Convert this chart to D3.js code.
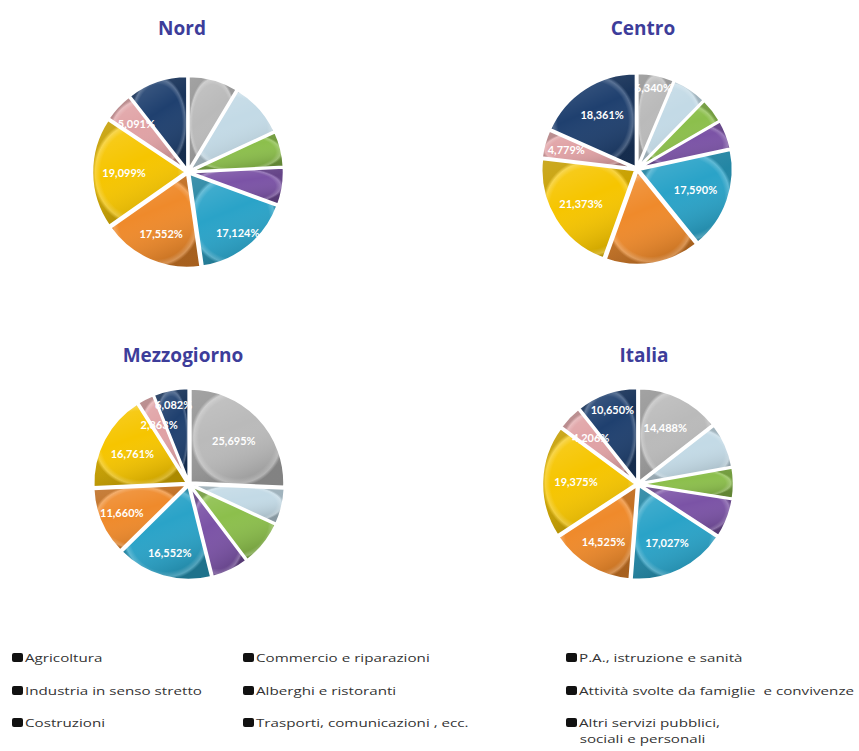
<!DOCTYPE html>
<html><head><meta charset="utf-8">
<script src="https://cdn.jsdelivr.net/npm/d3@7"></script>
<style>body{margin:0;background:#fff}svg{display:block}</style>
</head><body>
<script>
const categories = ["Agricoltura","Industria in senso stretto","Costruzioni","Commercio e riparazioni","Alberghi e ristoranti","Trasporti, comunicazioni , ecc.","P.A., istruzione e sanità","Attività svolte da famiglie  e convivenze","Altri servizi pubblici, sociali e personali"];
const colors = ["#bababa","#c3dae6","#8cbf4c","#7b53a6","#2aa3c8","#ef8a2b","#f6c500","#e0a2a5","#1f406f"];
const regions = ["Nord","Centro","Mezzogiorno","Italia"];
const nordValues = [8.6, 9.5, 6.1, 6.4, 17.124, 17.552, 19.099, 5.091, 10.534];
const centroValues = [6.34, 6.0, 4.3, 4.96, 17.59, 16.297, 21.373, 4.779, 18.361];
const mezzogiornoValues = [25.695, 6.2, 7.8, 6.387, 16.552, 11.66, 16.761, 2.863, 6.082];
const italiaValues = [14.488, 7.7, 5.3, 6.729, 17.027, 14.525, 19.375, 4.206, 10.65];
const nordLabeled = [4,5,6,7];
const centroLabeled = [0,4,6,7,8];
const mezzogiornoLabeled = [0,4,5,6,7,8];
const italiaLabeled = [0,4,5,6,7,8];
// label distance from centre (fraction of radius), one per labelled slice
const nordLabelR = [0.84, 0.72, 0.68, 0.75];
const centroLabelR = [0.88, 0.66, 0.7, 0.78, 0.68];
const mezzogiornoLabelR = [0.66, 0.76, 0.78, 0.68, 0.7, 0.86];
const italiaLabelR = [0.66, 0.7, 0.72, 0.66, 0.7, 0.83];

const W = 859, H = 751;
const svg = d3.select("body").append("svg").attr("width", W).attr("height", H);
const defs = svg.append("defs");
const rim = defs.append("radialGradient").attr("id","rim");
[[0,"#fff",0],[0.82,"#fff",0],[0.93,"#fff",0.22],[1,"#000",0.18]].forEach(s=>rim.append("stop").attr("offset",s[0]).attr("stop-color",s[1]).attr("stop-opacity",s[2]));
const shade = defs.append("linearGradient").attr("id","shade").attr("x1",0).attr("y1",0).attr("x2",0.4).attr("y2",1);
[[0,"#fff",0.18],[0.5,"#fff",0],[1,"#000",0.15]].forEach(s=>shade.append("stop").attr("offset",s[0]).attr("stop-color",s[1]).attr("stop-opacity",s[2]));

const pies = [
  {name: regions[0], values: nordValues, labeled: nordLabeled, lr: nordLabelR, cx: 188, cy: 172},
  {name: regions[1], values: centroValues, labeled: centroLabeled, lr: centroLabelR, cx: 637, cy: 169},
  {name: regions[2], values: mezzogiornoValues, labeled: mezzogiornoLabeled, lr: mezzogiornoLabelR, cx: 189, cy: 484},
  {name: regions[3], values: italiaValues, labeled: italiaLabeled, lr: italiaLabelR, cx: 638, cy: 484}
];
const titleY = [35, 35, 362, 362];
const R = 94;
const pie = d3.pie().sort(null).value(d => d);
const arc = d3.arc().innerRadius(0).outerRadius(R);
const fmt = v => d3.format(".3f")(v).replace(".", ",") + "%";

pies.forEach((p, pi) => {
  const g = svg.append("g").attr("transform", `translate(${p.cx},${p.cy})`);
  svg.append("text").attr("x", p.cx + (pi % 2 ? 6 : -6)).attr("y", titleY[pi])
    .attr("text-anchor","middle").attr("font-family","'Open Sans', sans-serif")
    .attr("font-weight","bold").attr("font-size","19px").attr("fill","#3d3d9a").text(p.name);
  const arcs = pie(p.values);
  const sl = g.selectAll("g.s").data(arcs).join("g").attr("class","s")
    .attr("transform", d => { const a=(d.startAngle+d.endAngle)/2; return `translate(${Math.sin(a)*2},${-Math.cos(a)*2})`; });
  sl.append("path").attr("d", arc).attr("fill", (d,i) => colors[i]);
  sl.append("path").attr("d", arc).attr("fill", "url(#shade)");
  sl.append("path").attr("d", arc).attr("fill", "url(#rim)");
  sl.append("path").attr("d", arc).attr("fill", "none").attr("stroke","#fff").attr("stroke-width",2.5).attr("stroke-linejoin","round");
  const la = p.labeled.map((idx, k) => ({a: arcs[idx], r: p.lr[k] * R}));
  g.selectAll("text.l").data(la).join("text").attr("class","l")
    .attr("x", d => Math.sin((d.a.startAngle+d.a.endAngle)/2) * d.r)
    .attr("y", d => -Math.cos((d.a.startAngle+d.a.endAngle)/2) * d.r + 4)
    .attr("text-anchor","middle").attr("font-family","Lato, sans-serif").attr("font-weight","bold")
    .attr("font-size","11px").attr("fill","#fff").text(d => fmt(d.a.data));
});

// legend
const colX = [12, 243, 566];
const rowY = [658, 691, 723];
categories.forEach((c, i) => {
  const col = Math.floor(i / 3), row = i % 3;
  const x = colX[col], y = rowY[row];
  svg.append("rect").attr("x", x).attr("y", y - 5).attr("width", 11).attr("height", 9).attr("rx", 2).attr("fill", "#111");
  const t = svg.append("text").attr("transform", `translate(${x + 13},${y + 4}) scale(1.38,1)`)
    .attr("font-family","'Open Sans', sans-serif").attr("font-size","11px").attr("fill","#333")
    .style("white-space","pre");
  if (i === 8) {
    t.append("tspan").attr("x", 0).text("Altri servizi pubblici,");
    t.append("tspan").attr("x", 0.5).attr("dy", 16).text("sociali e personali");
  } else t.text(c);
});
</script>
</body></html>
